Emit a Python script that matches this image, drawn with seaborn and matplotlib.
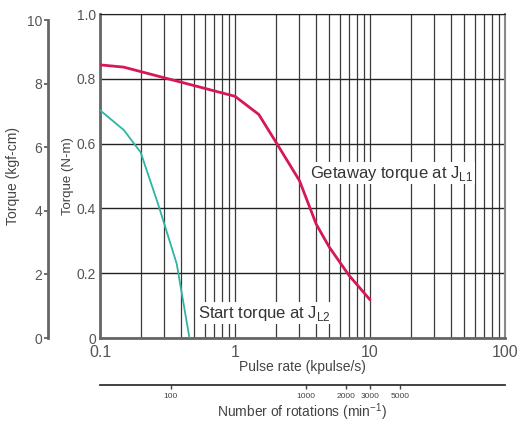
import numpy as np
import pandas as pd
import matplotlib
matplotlib.use("Agg")
import matplotlib.pyplot as plt
import matplotlib.ticker as mticker
import seaborn as sns

# curve (pulse rate kpulse/s, torque N-m)
getaway_rate = [0.1, 0.15, 0.3, 1.0, 1.5, 2.0, 3.0, 4.0, 5.0, 7.0, 10.0]
getaway_torque = [0.843, 0.836, 0.803, 0.746, 0.69, 0.606, 0.486, 0.351, 0.28, 0.193, 0.118]
start_rate = [0.1, 0.15, 0.2, 0.27, 0.3, 0.37, 0.4, 0.46]
start_torque = [0.703, 0.642, 0.573, 0.412, 0.351, 0.229, 0.147, 0.0]

rate_ticks = [0.1, 1, 10, 100]
rpm_ticks = [100, 1000, 2000, 3000, 5000]
nm_ticks = [0, 0.2, 0.4, 0.6, 0.8, 1.0]
kgf_ticks = [0, 2, 4, 6, 8, 10]

sns.set_style("white")
plt.rcParams["font.family"] = ["Liberation Sans", "DejaVu Sans"]

W, H = 520, 422
fig = plt.figure(figsize=(W / 100, H / 100), dpi=100)
ax = fig.add_axes([100 / W, 1 - 338 / H, 405 / W, 324 / H])

df1 = pd.DataFrame({"rate": getaway_rate, "torque": getaway_torque})
df2 = pd.DataFrame({"rate": start_rate, "torque": start_torque})
sns.lineplot(data=df1, x="rate", y="torque", ax=ax, color="#d6175c", lw=2.0, zorder=5)
sns.lineplot(data=df2, x="rate", y="torque", ax=ax, color="#2fb3a3", lw=1.3, zorder=5)

ax.set_xscale("log")
ax.set_xlim(0.1, 100)
ax.set_ylim(0, 1.0)
ax.set_xticks(rate_ticks)
ax.set_xticklabels(["0.1", "1", "10", "100"])
ax.xaxis.set_minor_locator(mticker.LogLocator(base=10, subs=np.arange(2, 10)))
ax.xaxis.set_minor_formatter(mticker.NullFormatter())
ax.set_yticks(nm_ticks)
ax.set_yticklabels(["0", "0.2", "0.4", "0.6", "0.8", "1.0"])
ax.grid(which="both", axis="x", color="#3a3a3a", lw=0.9)
ax.grid(which="major", axis="y", color="#222222", lw=1.0)
ax.tick_params(which="both", length=0, colors="#555555")
ax.tick_params(axis="x", labelsize=11.5, pad=5)
ax.tick_params(axis="y", labelsize=10, pad=3)
for s in ["left", "bottom"]:
    ax.spines[s].set_color("#666666")
    ax.spines[s].set_linewidth(2)
ax.spines["top"].set_color("#222222")
ax.spines["right"].set_color("#888888")
ax.spines["right"].set_linewidth(1.5)
ax.set_xlabel("Pulse rate (kpulse/s)", fontsize=10, color="#444444", labelpad=0)
ax.set_ylabel("Torque (N-m)", fontsize=9.5, color="#444444", labelpad=2)

ax.text(3.6, 0.509, "Getaway torque at J$_{\\mathregular{L1}}$", fontsize=12,
        color="#333333", va="center", ha="left", zorder=6,
        bbox=dict(facecolor="white", edgecolor="none", pad=1))
ax.text(0.532, 0.077, "Start torque at J$_{\\mathregular{L2}}$", fontsize=12,
        color="#333333", va="center", ha="left", zorder=6,
        bbox=dict(facecolor="white", edgecolor="none", pad=1))

# left axis in kgf-cm
ax_k = fig.add_axes([48 / W, 1 - 338 / H, 0.0001, 324 / H])
ax_k.set_ylim(0, 10.197)
ax_k.set_yticks(kgf_ticks)
ax_k.set_xticks([])
for s in ["top", "right", "bottom"]:
    ax_k.spines[s].set_visible(False)
ax_k.spines["left"].set_color("#666666")
ax_k.spines["left"].set_linewidth(2)
ax_k.spines["left"].set_bounds(0, 10)
ax_k.tick_params(axis="y", direction="out", length=3, width=1.2, colors="#555555",
                 labelsize=10, pad=1, left=True)
ax_k.set_ylabel("Torque (kgf-cm)", fontsize=10, color="#444444", labelpad=5)

# bottom axis for rotations
ax_r = fig.add_axes([100 / W, 1 - 385 / H, 405 / W, 0.0001])
ax_r.set_xscale("log")
ax_r.set_xlim(0.1 * 300, 100 * 300)
ax_r.set_yticks([])
ax_r.xaxis.set_major_locator(mticker.FixedLocator(rpm_ticks))
ax_r.xaxis.set_major_formatter(mticker.FixedFormatter([str(v) for v in rpm_ticks]))
ax_r.xaxis.set_minor_locator(mticker.NullLocator())
for s in ["top", "right", "left"]:
    ax_r.spines[s].set_visible(False)
ax_r.spines["bottom"].set_color("#333333")
ax_r.spines["bottom"].set_linewidth(1.3)
ax_r.tick_params(axis="x", direction="out", length=3, width=1, colors="#444444",
                 labelsize=6, pad=3, bottom=True)
ax_r.set_xlabel("Number of rotations (min$^{\\mathregular{-1}}$)", fontsize=10,
                color="#444444", labelpad=1)

fig.savefig("out.png", dpi=100)
